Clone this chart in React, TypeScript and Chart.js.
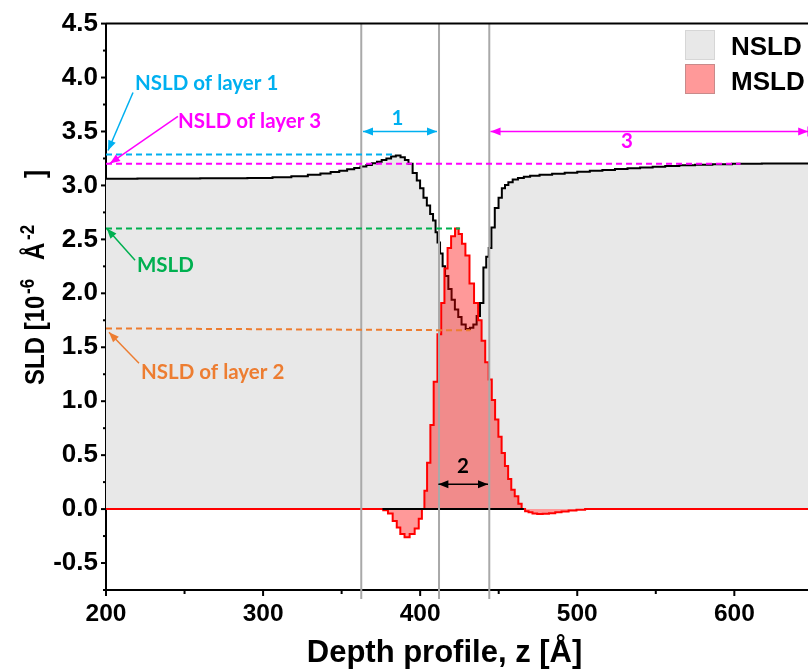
import React, { useEffect, useRef } from 'react';
import { Chart, registerables } from 'chart.js';

Chart.register(...registerables);

// ---------- data ----------
const nsldZ = [200, 240, 280, 300, 312, 324, 333, 340, 346, 351, 356, 360, 364, 367.5, 371, 374, 377, 380, 383, 386, 389, 391.5, 393.6, 396.8, 398.9, 401, 403.2, 405.3, 407.4, 409, 410.6, 411.5, 413.8, 414.8, 416.9, 419, 421, 423.2, 425.3, 427.4, 430.6, 432.8, 434.9, 437, 439.2, 441.3, 442.8, 444.5, 446.2, 448.8, 451, 453, 455, 457.3, 460.5, 464, 468, 472, 480, 488, 496, 504, 512, 520, 528, 536, 544, 552, 560, 570, 580, 592, 605, 630, 680];
const nsldV = [3.062, 3.064, 3.066, 3.069, 3.075, 3.085, 3.098, 3.11, 3.125, 3.137, 3.15, 3.162, 3.175, 3.19, 3.205, 3.22, 3.235, 3.25, 3.267, 3.278, 3.262, 3.235, 3.2, 3.115, 3.045, 2.975, 2.885, 2.815, 2.735, 2.675, 2.565, 2.47, 2.37, 2.25, 2.16, 2.04, 1.94, 1.85, 1.78, 1.71, 1.67, 1.68, 1.71, 1.79, 1.91, 2.24, 2.34, 2.42, 2.61, 2.79, 2.885, 2.975, 3.005, 3.03, 3.055, 3.07, 3.08, 3.09, 3.1, 3.108, 3.118, 3.127, 3.136, 3.144, 3.152, 3.159, 3.166, 3.173, 3.18, 3.187, 3.192, 3.197, 3.2, 3.203, 3.206];

const msldZ = [200, 375, 378, 381, 384, 386.2, 388.5, 391.6, 395, 398, 400.2, 402, 403.4, 405.4, 407.6, 409.6, 412.4, 414.4, 416.5, 418.4, 421, 423.4, 425.6, 427.6, 430, 432.8, 435.8, 438, 440.2, 442.6, 444.6, 446.6, 448.8, 450.8, 452.9, 455, 457, 459, 461.4, 463.6, 465.6, 468, 470, 473, 476, 480, 484, 488, 492, 497, 502, 508, 680];
const msldV = [0, 0, -0.01, -0.04, -0.11, -0.17, -0.23, -0.26, -0.23, -0.18, -0.09, 0, 0.17, 0.43, 0.78, 1.18, 1.62, 1.91, 2.23, 2.42, 2.53, 2.6, 2.55, 2.46, 2.35, 2.09, 1.91, 1.75, 1.56, 1.36, 1.2, 1.01, 0.83, 0.67, 0.52, 0.4, 0.28, 0.18, 0.12, 0.05, 0, -0.02, -0.03, -0.04, -0.045, -0.043, -0.038, -0.03, -0.022, -0.013, -0.005, 0, 0];

const baselineZ = [376, 466];
const baselineV = [0, 0];

const xMajorTicks = [200, 300, 400, 500, 600];
const xMinorTicks = [250, 350, 450, 550, 650];
const yMajorTicks = [-0.5, 0, 0.5, 1, 1.5, 2, 2.5, 3, 3.5, 4, 4.5];
const yMinorTicks = [-0.75, -0.25, 0.25, 0.75, 1.25, 1.75, 2.25, 2.75, 3.25, 3.75, 4.25];

const layerBounds = [362.5, 412, 444];

// reference levels (dashed lines start at x = 200)
const nsldLayer1 = 3.287;
const nsldLayer1End = 384;
const nsldLayer3 = 3.2;
const nsldLayer3End = 604;
const msldLevel = 2.6;
const msldLevelEnd = 425.4;
const nsldLayer2Start = 1.675;
const nsldLayer2EndV = 1.657;
const nsldLayer2End = 432;

const COL_CYAN = '#00b0f0';
const COL_MAG = '#ff00ff';
const COL_GREEN = '#00b050';
const COL_ORANGE = '#ed7d31';

const ARIAL = '"Liberation Sans", Arial, sans-serif';
const ANN = 'Lato, "Open Sans", sans-serif';

function pts(zs: number[], vs: number[]) {
  return zs.map((z, i) => ({ x: z, y: vs[i] }));
}

function arrowHead(ctx: CanvasRenderingContext2D, x1: number, y1: number, x2: number, y2: number, len = 10, wid = 4) {
  const a = Math.atan2(y2 - y1, x2 - x1);
  ctx.beginPath();
  ctx.moveTo(x2, y2);
  ctx.lineTo(x2 - len * Math.cos(a) + wid * Math.sin(a), y2 - len * Math.sin(a) - wid * Math.cos(a));
  ctx.lineTo(x2 - len * Math.cos(a) - wid * Math.sin(a), y2 - len * Math.sin(a) + wid * Math.cos(a));
  ctx.closePath();
  ctx.fill();
}

function arrow(ctx: CanvasRenderingContext2D, x1: number, y1: number, x2: number, y2: number, color: string, both = false) {
  ctx.strokeStyle = color;
  ctx.fillStyle = color;
  ctx.lineWidth = 1.5;
  ctx.beginPath();
  ctx.moveTo(x1, y1);
  ctx.lineTo(x2, y2);
  ctx.stroke();
  arrowHead(ctx, x1, y1, x2, y2);
  if (both) arrowHead(ctx, x2, y2, x1, y1);
}

const annotPlugin = {
  id: 'annot',
  afterDatasetsDraw(chart: any) {
    const { ctx, chartArea: ca, scales } = chart;
    const X = (v: number) => scales.x.getPixelForValue(v);
    const Y = (v: number) => scales.y.getPixelForValue(v);
    ctx.save();
    // layer boundaries
    ctx.strokeStyle = '#a9a9a9';
    ctx.lineWidth = 2;
    layerBounds.forEach((b) => {
      ctx.beginPath();
      ctx.moveTo(X(b), ca.top);
      ctx.lineTo(X(b), ca.bottom + 9);
      ctx.stroke();
    });
    // dashed reference lines
    ctx.setLineDash([6, 4]);
    ctx.lineWidth = 2;
    const dash = (c: string, v1: number, x2: number, v2: number) => {
      ctx.strokeStyle = c;
      ctx.beginPath();
      ctx.moveTo(X(200), Y(v1));
      ctx.lineTo(X(x2), Y(v2));
      ctx.stroke();
    };
    dash(COL_CYAN, nsldLayer1, nsldLayer1End, nsldLayer1);
    dash(COL_MAG, nsldLayer3, nsldLayer3End, nsldLayer3);
    dash(COL_GREEN, msldLevel, msldLevelEnd, msldLevel);
    dash(COL_ORANGE, nsldLayer2Start, nsldLayer2End, nsldLayer2EndV);
    ctx.setLineDash([]);

    // pointer arrows
    arrow(ctx, X(217.2), Y(3.861), X(201.3), Y(3.324), COL_CYAN);
    arrow(ctx, X(245.8), Y(3.639), X(202.5), Y(3.204), COL_MAG);
    arrow(ctx, X(218.5), Y(2.306), X(200.5), Y(2.6), COL_GREEN);
    arrow(ctx, X(221), Y(1.352), X(201.9), Y(1.639), COL_ORANGE);

    // annotation texts
    ctx.font = `bold 20.5px ${ANN}`;
    ctx.textBaseline = 'alphabetic';
    ctx.textAlign = 'left';
    ctx.fillStyle = COL_CYAN;
    ctx.fillText('NSLD of layer 1', X(218.5), Y(3.889));
    ctx.fillStyle = COL_MAG;
    ctx.fillText('NSLD of layer 3', X(245.8), Y(3.528));
    ctx.fillStyle = COL_GREEN;
    ctx.fillText('MSLD', X(219.7), Y(2.194));
    ctx.fillStyle = COL_ORANGE;
    ctx.fillText('NSLD of layer 2', X(222.3), Y(1.204));

    // layer thickness arrows
    arrow(ctx, X(363.6), Y(3.5), X(410.7), Y(3.5), COL_CYAN, true);
    arrow(ctx, X(444.8), Y(3.5), X(647), Y(3.5), COL_MAG, true);
    ctx.strokeStyle = COL_MAG;
    ctx.beginPath();
    ctx.moveTo(X(647), Y(3.5) - 5);
    ctx.lineTo(X(647), Y(3.5) + 5);
    ctx.stroke();
    arrow(ctx, X(411.6), Y(0.231), X(443.2), Y(0.231), '#000000', true);

    ctx.textAlign = 'center';
    ctx.font = `bold 20.5px ${ANN}`;
    ctx.fillStyle = COL_CYAN;
    ctx.fillText('1', X(385.6), Y(3.556));
    ctx.fillStyle = COL_MAG;
    ctx.fillText('3', X(531.7), Y(3.343));
    ctx.fillStyle = '#000000';
    ctx.fillText('2', X(427.3), Y(0.333));
    ctx.restore();
  },
  afterDraw(chart: any) {
    const { ctx, chartArea: ca, scales } = chart;
    const X = (v: number) => scales.x.getPixelForValue(v);
    const Y = (v: number) => scales.y.getPixelForValue(v);
    ctx.save();
    // top frame
    ctx.strokeStyle = '#000';
    ctx.lineWidth = 2;
    ctx.beginPath();
    ctx.moveTo(ca.left, ca.top);
    ctx.lineTo(ca.right, ca.top);
    ctx.stroke();
    // tick marks
    const tickX = (v: number, len: number, w: number) => {
      ctx.lineWidth = w;
      ctx.beginPath();
      ctx.moveTo(X(v), ca.bottom);
      ctx.lineTo(X(v), ca.bottom + len);
      ctx.stroke();
    };
    const tickY = (v: number, len: number, w: number) => {
      ctx.lineWidth = w;
      ctx.beginPath();
      ctx.moveTo(ca.left, Y(v));
      ctx.lineTo(ca.left - len, Y(v));
      ctx.stroke();
    };
    xMajorTicks.forEach((v) => tickX(v, 6, 2));
    xMinorTicks.forEach((v) => tickX(v, 4, 2));
    yMajorTicks.forEach((v) => tickY(v, 5, 2));
    yMinorTicks.forEach((v) => tickY(v, 3, 2));

    // x title
    ctx.fillStyle = '#000';
    ctx.font = `bold 31px ${ARIAL}`;
    ctx.textAlign = 'center';
    ctx.textBaseline = 'alphabetic';
    ctx.fillText('Depth profile, z [Å]', X(415.5), ca.bottom + 72);

    // y title (rotated, with superscripts)
    ctx.save();
    ctx.translate(44, 385);
    ctx.rotate(-Math.PI / 2);
    ctx.scale(1, 1.15);
    ctx.textAlign = 'left';
    ctx.font = `bold 24px ${ARIAL}`;
    ctx.fillText('SLD [10', 0, 0);
    ctx.font = `bold 17px ${ARIAL}`;
    ctx.fillText('-6', 91, -9);
    ctx.font = `bold 24px ${ARIAL}`;
    ctx.fillText('Å', 125, 0);
    ctx.font = `bold 17px ${ARIAL}`;
    ctx.fillText('-2', 145, -9);
    ctx.font = `bold 24px ${ARIAL}`;
    ctx.fillText(']', 207, 0);
    ctx.restore();

    // legend
    ctx.lineWidth = 1;
    ctx.fillStyle = '#e8e8e8';
    ctx.strokeStyle = '#d6d6d6';
    ctx.fillRect(685, 30, 30, 30);
    ctx.strokeRect(685.5, 30.5, 29, 29);
    ctx.fillStyle = '#ff9999';
    ctx.strokeStyle = '#c88a8a';
    ctx.fillRect(685, 64, 30, 30);
    ctx.strokeRect(685.5, 64.5, 29, 29);
    ctx.fillStyle = '#000';
    ctx.font = `bold 26px ${ARIAL}`;
    ctx.textAlign = 'left';
    ctx.fillText('NSLD', 731, 55);
    ctx.fillText('MSLD', 731, 90);
    ctx.restore();
  },
};

export default function App() {
  const ref = useRef<HTMLCanvasElement>(null);
  useEffect(() => {
    const canvas = ref.current!;
    const chart = new Chart(canvas, {
      type: 'line',
      data: {
        datasets: [
          {
            label: 'baseline',
            data: pts(baselineZ, baselineV),
            borderColor: '#000000',
            borderWidth: 2,
            pointRadius: 0,
            fill: false,
            order: 0,
          },
          {
            label: 'MSLD',
            data: pts(msldZ, msldV),
            borderColor: '#ff0000',
            borderWidth: 2,
            backgroundColor: 'rgba(255,0,0,0.4)',
            fill: 'origin',
            stepped: 'middle',
            pointRadius: 0,
            order: 1,
          },
          {
            label: 'NSLD',
            data: pts(nsldZ, nsldV),
            borderColor: '#000000',
            borderWidth: 2,
            backgroundColor: '#e8e8e8',
            fill: 'origin',
            stepped: 'middle',
            pointRadius: 0,
            order: 2,
          },
        ] as any,
      },
      options: {
        animation: false,
        responsive: false,
        maintainAspectRatio: false,
        layout: { padding: { top: 23, right: 2, left: 0, bottom: 0 } },
        plugins: { legend: { display: false }, tooltip: { enabled: false } },
        scales: {
          x: {
            type: 'linear',
            min: 200,
            max: 680,
            afterBuildTicks: (s: any) => {
              s.ticks = xMajorTicks.map((v) => ({ value: v }));
            },
            afterFit: (s: any) => {
              s.height = 81;
            },
            grid: { display: true, drawOnChartArea: false, drawTicks: false },
            border: { display: true, color: '#000', width: 2 },
            ticks: {
              autoSkip: false,
              maxRotation: 0,
              padding: 10,
              color: '#000',
              font: { family: ARIAL, size: 24.5, weight: 'bold' },
              callback: (v: any) => String(v),
            },
          },
          y: {
            type: 'linear',
            min: -0.75,
            max: 4.5,
            afterBuildTicks: (s: any) => {
              s.ticks = yMajorTicks.map((v) => ({ value: v }));
            },
            afterFit: (s: any) => {
              s.width = 106;
            },
            grid: { display: true, drawOnChartArea: false, drawTicks: false },
            border: { display: true, color: '#000', width: 2 },
            ticks: {
              padding: 8,
              color: '#000',
              font: { family: ARIAL, size: 26, weight: 'bold' },
              callback: (v: any) => Number(v).toFixed(1),
            },
          },
        },
      } as any,
      plugins: [annotPlugin],
    });
    return () => chart.destroy();
  }, []);
  return (
    <div style={{ position: 'fixed', left: 0, top: 0, width: 808, height: 671, overflow: 'hidden', background: '#fff' }}>
      <canvas ref={ref} width={862} height={671} style={{ display: 'block', width: 862, height: 671 }} />
    </div>
  );
}
